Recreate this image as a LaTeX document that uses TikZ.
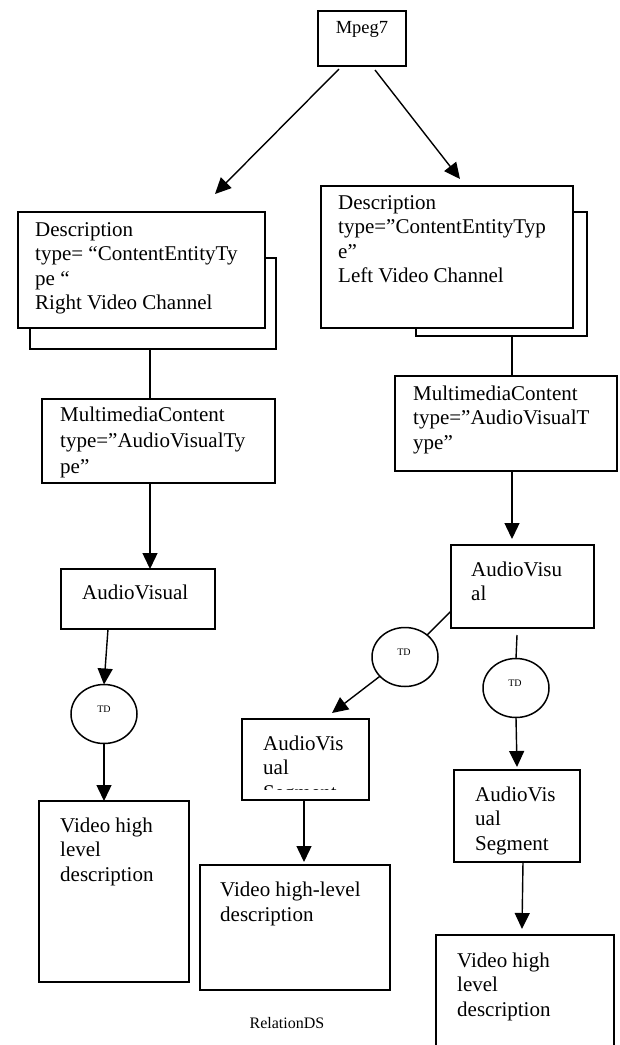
\documentclass[tikz,border=0pt]{standalone}
\usepackage{fontspec}
\setmainfont{Liberation Serif}
\usetikzlibrary{arrows.meta,calc,shapes.geometric}
\newcommand{\mlines}[1]{\begin{tabular}[t]{@{}l@{}}#1\end{tabular}}
\begin{document}
\begin{tikzpicture}[x=1pt,y=-1pt,
  box/.style={draw,line width=1.8pt,fill=white,inner sep=0pt,outer sep=0pt,anchor=north west},
  tdnode/.style={draw,ellipse,line width=1.5pt,fill=white,minimum width=66pt,minimum height=59pt,inner sep=0pt,outer sep=0pt},
  conn/.style={line width=1.4pt},
  arr/.style={conn,-{Triangle[length=16pt,width=15pt]}},
  txt/.style={inner sep=0pt,anchor=base west,font=\fontsize{21}{#1}\selectfont},
  txt/.default=24.6,
  tdtxt/.style={inner sep=0pt,anchor=base,font=\fontsize{10}{12}\selectfont},
  small/.style={inner sep=0pt,anchor=base,font=\fontsize{16}{19}\selectfont}]
\useasboundingbox (0,0) rectangle (619,1045);
\clip (0,0) rectangle (619,1045);
\fill[white] (0,0) rectangle (619,1045);

% top node
\node[box,minimum width=88pt,minimum height=55pt] (mpeg) at (318,11) {};
\node[inner sep=0pt,anchor=base,font=\fontsize{18.5}{22}\selectfont] (tmpeg) at (362,33) {Mpeg7};

% description boxes with shadows
\node[box,minimum width=246pt,minimum height=91pt] (s1) at (30,258) {};
\node[box,minimum width=247pt,minimum height=116pt] (d1) at (18,212) {};
\node[txt] (td1txt) at (35,236) {\mlines{Description\\type= “ContentEntityTy\\pe “\\Right Video Channel}};

\node[box,minimum width=171pt,minimum height=124pt] (s2) at (416,212) {};
\node[box,minimum width=252pt,minimum height=142pt] (d2) at (321,186) {};
\node[txt] (td2txt) at (338,209) {\mlines{Description\\type=”ContentEntityTyp\\e”\\Left Video Channel}};

% multimedia content
\node[box,minimum width=233pt,minimum height=84pt] (mc1) at (42,399) {};
\node[txt=26] (tmc1) at (60,421) {\mlines{MultimediaContent\\type=”AudioVisualTy\\pe”}};
\node[box,minimum width=222pt,minimum height=95pt] (mc2) at (395,376) {};
\node[txt=24.5] (tmc2) at (413,400) {\mlines{MultimediaContent\\type=”AudioVisualT\\ype”}};

% audiovisual
\node[box,minimum width=154pt,minimum height=60pt] (av1) at (61,569) {};
\node[txt] (tav1) at (82,599) {AudioVisual};
\node[box,minimum width=143pt,minimum height=83pt] (av2) at (451,545) {};
\node[txt=24] (tav2) at (471,576) {\mlines{AudioVisu\\al}};

% TD circles
\node[tdnode] (td1) at (104,714) {};
\node[tdtxt] (tdt1) at (104,712) {TD};
\node[tdnode] (td2) at (405,657) {};
\node[tdnode] (td3) at (516,688) {};
\node[tdtxt] (tdt2) at (404,655) {TD};
\node[tdtxt] (tdt3) at (515,686) {TD};

% segments
\node[box,minimum width=127pt,minimum height=81pt] (seg1) at (242,719) {};
\begin{scope}
  \clip (243,720) rectangle (368,789);
  \node[txt=24.5] (tseg1) at (263,750) {\mlines{AudioVis\\ual\\Segment}};
\end{scope}
\node[box,minimum width=126pt,minimum height=92pt] (seg2) at (454,770) {};
\node[txt=24.5] (tseg2) at (475,801) {\mlines{AudioVis\\ual\\Segment}};

% video descriptions
\node[box,minimum width=150pt,minimum height=181pt] (v1) at (39,801) {};
\node[txt=24.5] (tv1) at (60,832) {\mlines{Video high\\level\\description}};
\node[box,minimum width=190pt,minimum height=125pt] (v2) at (200,865) {};
\node[txt=25] (tv2) at (220,896) {\mlines{Video high-level\\description}};
\node[box,minimum width=178pt,minimum height=130pt] (v3) at (436,935) {};
\node[txt=24.5] (tv3) at (457,967) {\mlines{Video high\\level\\description}};

\node[small] (rel) at (287,1028) {RelationDS};

% connectors
\coordinate (e1) at ($(d1.north west)+(197,-18)$);
\coordinate (e2) at ($(d2.north west)+(139,-7)$);
\draw[arr] ($(mpeg.south west)+(21,3)$) -- (e1);
\draw[arr] ($(mpeg.south west)+(57,4)$) -- (e2);
\draw[conn] ($(s1.south west)+(120,0)$) -- ($(mc1.north west)+(108,0)$);
\draw[conn] ($(s2.south west)+(96,0)$) -- ($(mc2.north west)+(117,0)$);
\draw[arr] ($(mc1.south west)+(108,0)$) -- ($(av1.north west)+(89,0)$);
\draw[arr] ($(mc2.south west)+(117,0)$) -- ($(av2.north west)+(61,-6)$);
\draw[arr] ($(av1.south west)+(47,0)$) -- (td1.north);
\draw[arr] (td1.south) -- ($(v1.north west)+(65,0)$);
\draw[conn] ($(av2.north west)+(0,66)$) -- (td2);
\coordinate (e3) at ($(seg1.north west)+(90,-6)$);
\draw[arr] (td2) -- (e3);
\draw[conn] ($(av2.south west)+(66,7)$) -- (td3.north);
\draw[arr] (td3.south) -- ($(seg2.north west)+(63,-3)$);
\draw[arr] ($(seg1.south west)+(62,0)$) -- ($(v2.north west)+(104,-3)$);
\draw[arr] ($(seg2.south west)+(69,0)$) -- ($(v3.north west)+(86,-6)$);
\end{tikzpicture}
\end{document}
